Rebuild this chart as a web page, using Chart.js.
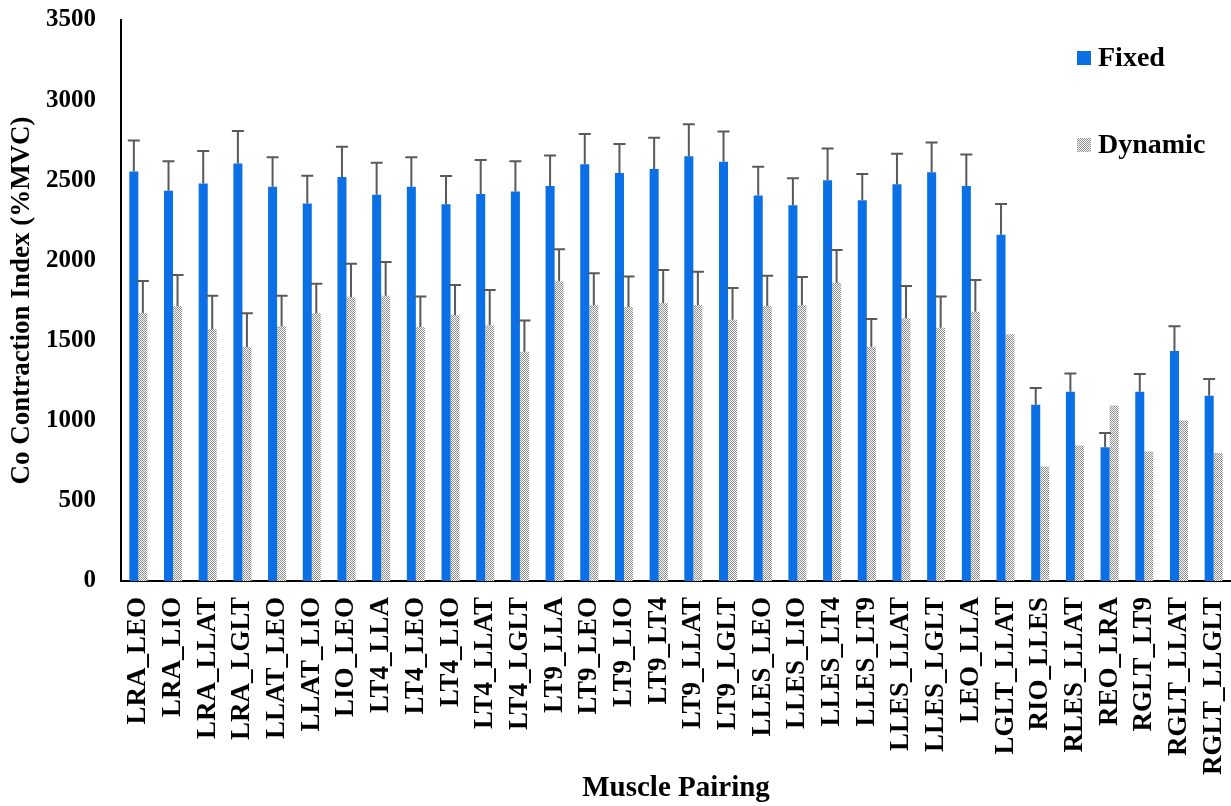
<!DOCTYPE html>
<html>
<head>
<meta charset="utf-8">
<script src="https://cdn.jsdelivr.net/npm/chart.js@4/dist/chart.umd.min.js"></script>
<style>
  body { margin: 0; background: #fff; }
  canvas { display: block; }
</style>
</head>
<body>
<canvas id="myChart" width="1231" height="806"></canvas>
<script>
const pairings = ['LRA_LEO', 'LRA_LIO', 'LRA_LLAT', 'LRA_LGLT', 'LLAT_LEO', 'LLAT_LIO', 'LIO_LEO', 'LT4_LLA',
  'LT4_LEO', 'LT4_LIO', 'LT4_LLAT', 'LT4_LGLT', 'LT9_LLA', 'LT9_LEO', 'LT9_LIO', 'LT9_LT4',
  'LT9_LLAT', 'LT9_LGLT', 'LLES_LEO', 'LLES_LIO', 'LLES_LT4', 'LLES_LT9', 'LLES_LLAT', 'LLES_LGLT',
  'LEO_LLA', 'LGLT_LLAT', 'RIO_LLES', 'RLES_LLAT', 'REO_LRA', 'RGLT_LT9', 'RGLT_LLAT', 'RGLT_LLGLT'];

const fixedValues = [2555, 2435, 2480, 2605, 2460, 2355, 2520, 2410, 2460, 2350, 2415, 2430, 2465, 2600, 2545, 2570,
  2650, 2615, 2405, 2345, 2500, 2375, 2475, 2550, 2465, 2160, 1100, 1180, 835, 1180, 1435, 1155];
const fixedErr = [193, 183, 202, 202, 183, 174, 190, 200, 183, 177, 211, 189, 190, 189, 181, 196,
  199, 190, 179, 168, 199, 164, 191, 185, 196, 192, 104, 114, 89, 111, 155, 106];

const dynamicValues = [1672, 1716, 1570, 1460, 1590, 1670, 1770, 1780, 1585, 1660, 1595, 1430, 1870, 1720, 1710, 1735,
  1722, 1630, 1716, 1720, 1860, 1462, 1640, 1580, 1680, 1540, 715, 845, 1095, 808, 1002, 798];
const dynamicErr = [200, 193, 210, 210, 190, 185, 210, 210, 190, 187, 220, 195, 200, 200, 190, 205,
  208, 198, 189, 177, 205, 173, 200, 195, 198, null, null, null, null, null, null, null];

const yTicks = [0, 500, 1000, 1500, 2000, 2500, 3000, 3500];

const serif = '"Liberation Serif", "Times New Roman", serif';
const blue = '#0B6FE5';

// small checker pattern for the Dynamic bars
function checker() {
  const c = document.createElement('canvas');
  c.width = 2; c.height = 2;
  const g = c.getContext('2d');
  g.fillStyle = '#ffffff';
  g.fillRect(0, 0, 2, 2);
  g.fillStyle = '#8c8c8c';
  g.fillRect(0, 0, 1, 1);
  g.fillRect(1, 1, 1, 1);
  return g.createPattern(c, 'repeat');
}
const dynPattern = checker();

const errorBars = {
  id: 'errorBars',
  afterDatasetsDraw(chart) {
    const ctx = chart.ctx;
    const y = chart.scales.y;
    const errs = [fixedErr, dynamicErr];
    ctx.save();
    ctx.strokeStyle = '#595959';
    ctx.lineWidth = 2;
    chart.data.datasets.forEach((ds, di) => {
      chart.getDatasetMeta(di).data.forEach((bar, i) => {
        const e = errs[di][i];
        if (e == null) return;
        const top = y.getPixelForValue(ds.data[i] + e);
        ctx.beginPath();
        ctx.moveTo(bar.x, bar.y);
        ctx.lineTo(bar.x, top);
        ctx.moveTo(bar.x - 6, top);
        ctx.lineTo(bar.x + 6, top);
        ctx.stroke();
      });
    });
    ctx.restore();
  }
};

const legendBox = {
  id: 'legendBox',
  afterDraw(chart) {
    const ctx = chart.ctx;
    const items = [['Fixed', blue, 58], ['Dynamic', dynPattern, 145]];
    ctx.save();
    ctx.font = 'bold 28px ' + serif;
    ctx.textBaseline = 'middle';
    items.forEach(([label, fill, cy]) => {
      ctx.fillStyle = fill;
      ctx.fillRect(1077, cy - 7, 14, 14);
      ctx.fillStyle = '#000';
      ctx.fillText(label, 1098, cy + 1);
    });
    ctx.restore();
  }
};

const ctx = document.getElementById('myChart').getContext('2d');
const myChart = new Chart(ctx, {
  type: 'bar',
  data: {
    labels: pairings,
    datasets: [
      { label: 'Fixed', data: fixedValues, backgroundColor: blue, borderWidth: 0 },
      { label: 'Dynamic', data: dynamicValues, backgroundColor: dynPattern, borderWidth: 0 }
    ]
  },
  options: {
    responsive: false,
    animation: false,
    layout: { padding: { top: 20, right: 0, bottom: 0, left: 0 } },
    categoryPercentage: 0.52,
    barPercentage: 1.0,
    plugins: {
      legend: { display: false },
      tooltip: { enabled: false }
    },
    scales: {
      x: {
        grid: { display: false, drawTicks: false },
        border: { display: true, color: '#000', width: 2 },
        ticks: {
          color: '#000',
          font: { family: serif, size: 27, weight: 'bold' },
          minRotation: 90,
          maxRotation: 90,
          autoSkip: false,
          padding: 16
        },
        title: {
          display: true,
          text: 'Muscle Pairing',
          color: '#000',
          font: { family: serif, size: 29, weight: 'bold' },
          padding: 0
        },
        afterFit(scale) {
          scale.height = 225;
          scale.paddingLeft = 0;
          scale.paddingRight = 0;
        }
      },
      y: {
        min: 0,
        max: 3500,
        afterBuildTicks(scale) { scale.ticks = yTicks.map(v => ({ value: v })); },
        grid: { display: false, drawTicks: false },
        border: { display: true, color: '#000', width: 2 },
        ticks: {
          color: '#000',
          font: { family: serif, size: 25, weight: 'bold' },
          padding: 25,
          callback: v => String(v)
        },
        title: {
          display: true,
          text: 'Co Contraction Index (%MVC)',
          color: '#000',
          font: { family: serif, size: 27, weight: 'bold' },
          padding: { top: 6, bottom: 0 }
        },
        afterFit(scale) {
          scale.width = 121;
          scale.paddingTop = 0;
          scale.paddingBottom = 0;
        }
      }
    }
  },
  plugins: [errorBars, legendBox]
});
</script>
</body>
</html>
